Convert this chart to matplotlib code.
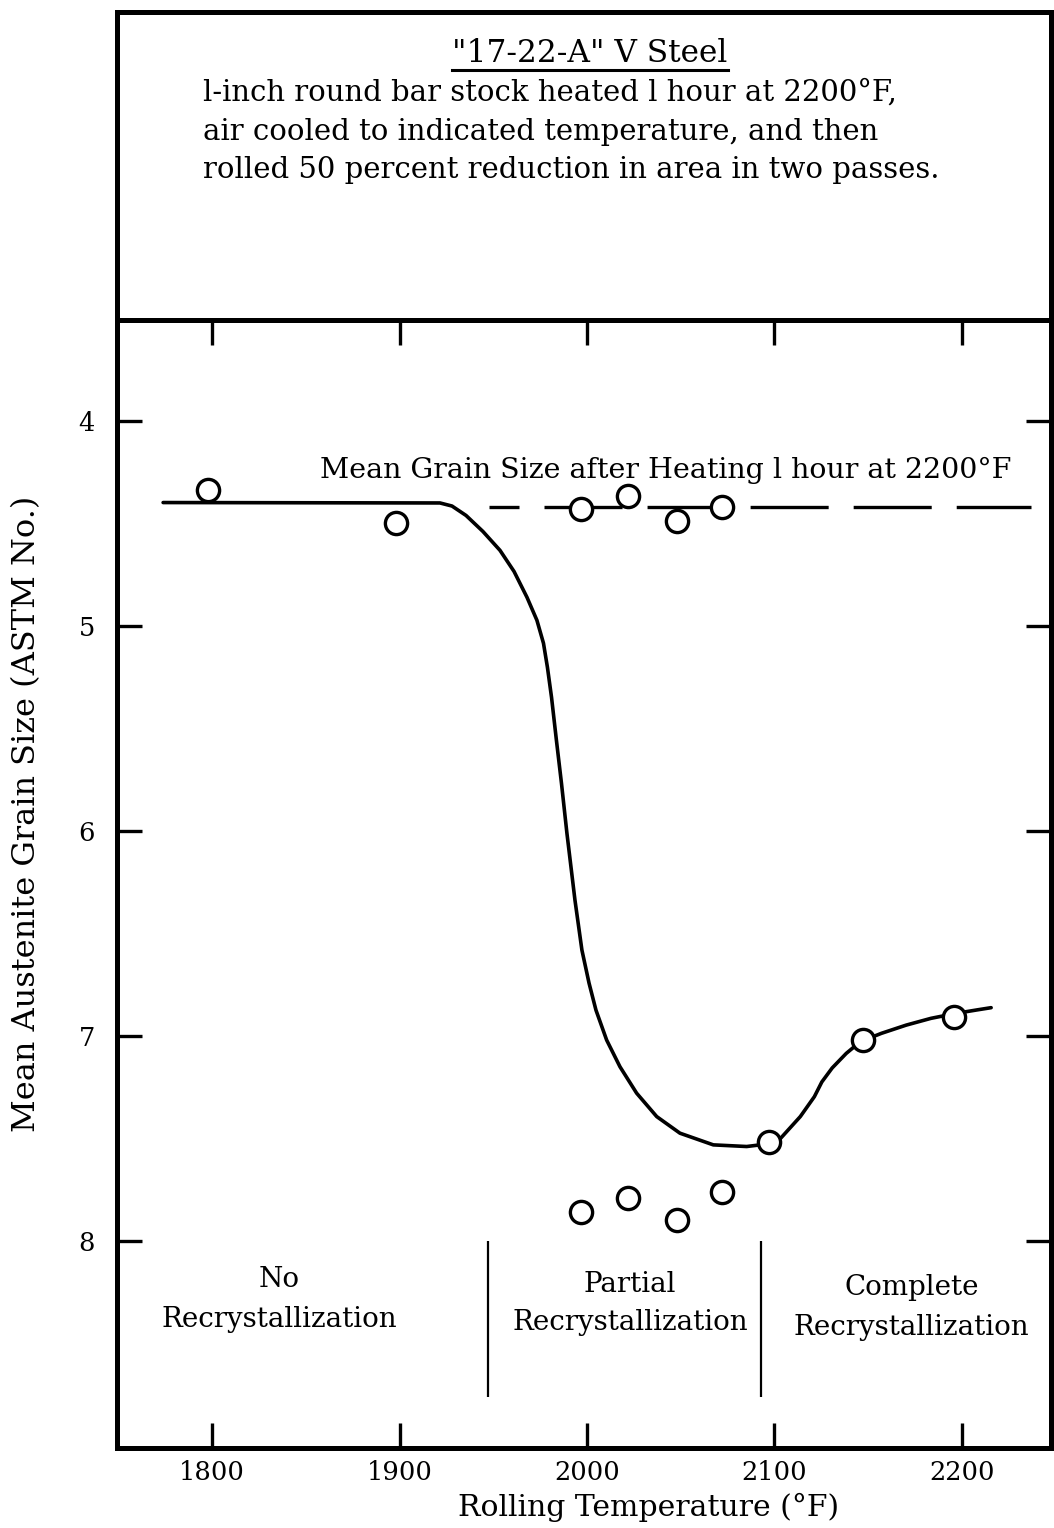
import matplotlib.pyplot as plt

plt.rcParams['font.family'] = ['DejaVu Serif']
plt.rcParams['lines.scale_dashes'] = False

# ---------------------------------------------------------
# values (temperature in F, grain size as ASTM No.)
# ---------------------------------------------------------
point_temp = [1798, 1898, 1997, 2022, 2048, 2072,
              1997, 2022, 2048, 2072, 2097, 2147, 2196]
point_size = [4.34, 4.50, 4.43, 4.37, 4.49, 4.42,
              7.86, 7.79, 7.90, 7.76, 7.52, 7.02, 6.91]

# hand drawn trend curve, traced point by point
curve_temp = [1773.9, 1921.6, 1928.0, 1935.5, 1944.5, 1953.6, 1961.1, 1968.0,
              1973.3, 1976.8, 1978.9, 1981.1, 1983.7, 1986.4, 1989.3, 1993.6,
              1997.3, 2001.1, 2004.8, 2010.5, 2017.6, 2026.5, 2037.2, 2049.6,
              2067.4, 2085.2, 2092.3, 2102.5, 2113.8, 2121.3, 2125.3, 2130.8,
              2138.3, 2145.8, 2157.1, 2170.3, 2183.5, 2196.7, 2208.0, 2215.6]
curve_size = [4.400, 4.402, 4.417, 4.463, 4.541, 4.633, 4.736, 4.862,
              4.974, 5.086, 5.203, 5.350, 5.559, 5.769, 6.012, 6.339,
              6.582, 6.743, 6.875, 7.021, 7.151, 7.280, 7.394, 7.475,
              7.532, 7.540, 7.532, 7.508, 7.394, 7.297, 7.225, 7.157,
              7.086, 7.029, 6.988, 6.948, 6.915, 6.891, 6.874, 6.863]

# grain size after heating only (dashed reference)
heated_temp = [1948, 2237]
heated_size = [4.42, 4.42]

# recrystallization regions
region_bounds = [1947, 2093]
region_top, region_bottom = 8.0, 8.76
region_words = ["No", "Partial", "Complete"]

x_ticks = [1800, 1900, 2000, 2100, 2200]
y_ticks = [4, 5, 6, 7, 8]

# ---------------------------------------------------------
# figure
# ---------------------------------------------------------
fig = plt.figure(figsize=(10.54, 15.28), dpi=100)

# header box with the caption
ax_head = fig.add_axes([0.1110, 0.7906, 0.8861, 0.2016])
ax_head.set_xticks([])
ax_head.set_yticks([])
for sp in ax_head.spines.values():
    sp.set_linewidth(3.6)

title = ax_head.text(0.5064, 0.8377, '"17-22-A" V Steel', fontsize=22.5,
                     ha='center', va='baseline', transform=ax_head.transAxes)
caption = ["l-inch round bar stock heated l hour at 2200°F,",
           "air cooled to indicated temperature, and then",
           "rolled 50 percent reduction in area in two passes."]
for line, yy in zip(caption, [0.711, 0.5844, 0.461]):
    ax_head.text(0.0921, yy, line, fontsize=21, ha='left', va='baseline',
                 transform=ax_head.transAxes)

# main plot
ax = fig.add_axes([0.1110, 0.05236, 0.8861, 0.7382])

ax.plot(curve_temp, curve_size, color='black', lw=2.6,
        solid_capstyle='round', solid_joinstyle='round', zorder=2)
ax.plot(heated_temp, heated_size, color='black', lw=2.4,
        linestyle=(34.6, (56.2, 18.0)), zorder=2)
ax.plot(point_temp, point_size, linestyle='none', marker='o', ms=16,
        mew=2.4, mec='black', mfc='white', zorder=3)

ax.vlines(region_bounds, region_top, region_bottom, color='black', lw=1.6)

ax.text(1857.6, 4.28, 'Mean Grain Size after Heating l hour at 2200°F',
        fontsize=20.5, ha='left', va='baseline')

label_x = [1836, 2023, 2173]
label_y = [(8.224, 8.418), (8.248, 8.433), (8.263, 8.457)]
for word, lx, (y1, y2) in zip(region_words, label_x, label_y):
    ax.text(lx, y1, word, fontsize=20, ha='center', va='baseline')
    ax.text(lx, y2, 'Recrystallization', fontsize=20, ha='center', va='baseline')

ax.set_xlim(1749.3, 2247.5)
ax.set_ylim(9.01, 3.51)
ax.set_xticks(x_ticks)
ax.set_yticks(y_ticks)
ax.tick_params(direction='in', length=18, width=2.4, top=True, right=True,
               labelsize=18.5)
ax.tick_params(axis='x', pad=9)
ax.tick_params(axis='y', pad=16)
for sp in ax.spines.values():
    sp.set_linewidth(3.6)

ax.set_xlabel('Rolling Temperature (°F)', fontsize=21.5)
ax.xaxis.set_label_coords(0.5696, -0.0395)
ax.set_ylabel('Mean Austenite Grain Size (ASTM No.)', fontsize=23)
ax.yaxis.set_label_coords(-0.080, 0.5626)

# underline under the header title
fig.canvas.draw()
bb = title.get_window_extent().transformed(ax_head.transAxes.inverted())
ax_head.plot([bb.x0, bb.x1], [0.8117, 0.8117], color='black', lw=2.2,
             transform=ax_head.transAxes)

fig.savefig('out.png', dpi=100)
